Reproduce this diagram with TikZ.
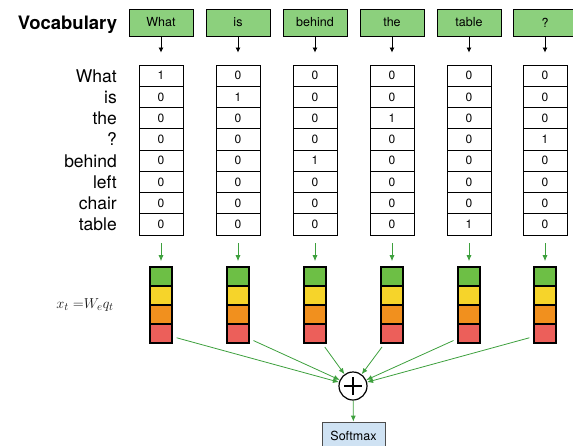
\documentclass[tikz,border=0pt]{standalone}
\usepackage{fontspec}
\setmainfont{TeX Gyre Heros}
\usetikzlibrary{shapes,arrows.meta}

\definecolor{wordgreen}{HTML}{8CD07D}
\definecolor{stackgreen}{HTML}{6DBF45}
\definecolor{stackyellow}{HTML}{F6D42A}
\definecolor{stackorange}{HTML}{F1901E}
\definecolor{stackred}{HTML}{EC5F5A}
\definecolor{arrowgreen}{HTML}{3DA03D}
\definecolor{softblue}{HTML}{CFE2F3}

\begin{document}
\begin{tikzpicture}[x=1pt,y=-1pt]
        % one-hot words -> embeddings -> sum -> softmax
        \tikzstyle{word} = [draw,rectangle,fill=wordgreen,minimum width=64,minimum height=27,inner sep=0,line width=0.7pt,font=\fontsize{12.5}{12.5}\selectfont];
        \tikzstyle{cell} = [draw,rectangle,minimum width=44,minimum height=21.25,inner sep=0,line width=0.9pt,font=\fontsize{12}{12}\selectfont];
        \tikzstyle{emb} = [draw,rectangle,minimum width=22,minimum height=19,inner sep=0,line width=1.6pt];
        \tikzstyle{barrow} = [-{Latex[length=5pt,width=5pt]},line width=0.8pt];
        \tikzstyle{garrow} = [-{Latex[length=6pt,width=5pt]},arrowgreen,line width=0.8pt];

        \useasboundingbox (0,0) rectangle (573,445);

        \node[font=\fontsize{18.5}{18.5}\selectfont\bfseries,anchor=base] (vocab) at (67.5,29) {Vocabulary};

        \foreach \r/\t in {1/What,2/is,3/the,4/?,5/behind,6/left,7/chair,8/table}
            \node[anchor=base east,inner sep=0,font=\fontsize{17.5}{17.5}\selectfont] (l\r) at (117,{65+21.25*(\r-0.5)+6.5}) {\t};

        \node[font=\fontsize{15}{15}\selectfont,black!90] (eq) at (85,305) {$x_t\;{=}W_eq_t$};

        \node[circle,draw,minimum size=28,inner sep=0,line width=1.2pt,
              path picture={\draw[line width=2.6pt] ([xshift=-9pt]path picture bounding box.center) -- ([xshift=9pt]path picture bounding box.center);
                            \draw[line width=2.6pt] ([yshift=-9pt]path picture bounding box.center) -- ([yshift=9pt]path picture bounding box.center);}]
              (plus) at (353,386) {};
        \node[draw=black!70,rectangle,fill=softblue,minimum width=63,minimum height=28,line width=0.7pt,font=\fontsize{12.5}{12.5}\selectfont] (softmax) at (353.5,436) {Softmax};

        \foreach \x/\w/\h [count=\c] in {161/What/1,238/is/2,315/behind/5,392/the/3,469/table/8,545/?/4} {
            \node[word] (w\c) at (\x,22.5) {\w};
            \foreach \r in {1,...,8}
                \node[cell] (v\c-\r) at (\x,{65+21.25*(\r-0.5)}) {\ifnum\r=\h\relax 1\else 0\fi};
            \foreach \k/\col in {1/stackgreen,2/stackyellow,3/stackorange,4/stackred}
                \node[emb,fill=\col] (s\c-\k) at (\x,{267+19*(\k-0.5)}) {};

            \draw[barrow,shorten >=12pt] (w\c) -- (v\c-1);
            \draw[garrow,shorten <=8pt,shorten >=5pt] (v\c-8) -- (s\c-1);
            \draw[garrow,shorten <=4pt] (s\c-4) -- (plus);
        }

        \draw[garrow] (plus) -- (softmax);

    \end{tikzpicture}
\end{document}
